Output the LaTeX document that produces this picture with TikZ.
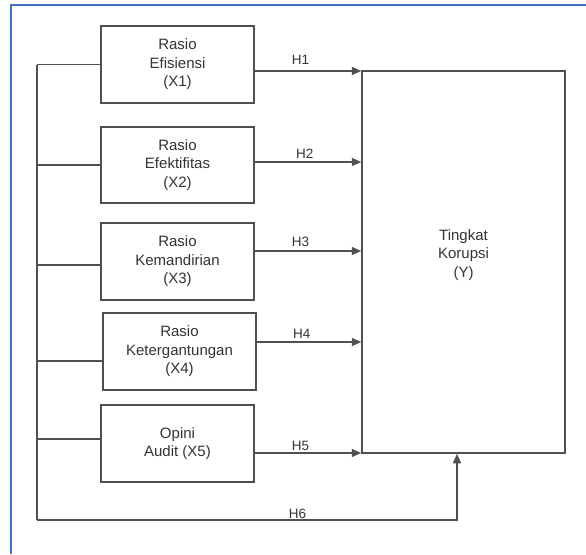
\documentclass[tikz,border=0pt]{standalone}
\usepackage{fontspec}
\setmainfont{Liberation Sans}
\usetikzlibrary{arrows.meta}
\usetikzlibrary{calc,positioning}

\definecolor{frameblue}{RGB}{68,114,196}
\definecolor{linegray}{RGB}{80,80,80}

\begin{document}
\begin{tikzpicture}[x=1pt, y=-1pt,
  var/.style={draw=linegray, line width=1.5pt, rectangle, minimum width=153pt, minimum height=77pt, align=center, inner sep=0pt, text=black!80, font=\fontsize{15}{18.5}\selectfont},
  link/.style={draw=linegray, line width=1.4pt},
  arr/.style={link, -{Triangle[length=9.5pt,width=8pt]}},
  hyp/.style={above, inner sep=3pt, text=black!80, font=\fontsize{13.5}{16}\selectfont}]
  \useasboundingbox (0,0) rectangle (586,554);
  \draw[frameblue, line width=2pt] (11,554) -- (11,5) -- (586,5);

  \node[var] (X1) at (177.5,64.5) {Rasio\\Efisiensi\\(X1)};
  \node[var, minimum height=76pt] (X2) at (177.5,165) {Rasio\\Efektifitas\\(X2)};
  \node[var] (X3) at (177.5,261.5) {Rasio\\Kemandirian\\(X3)};
  \node[var] (X4) at (179.5,351.5) {Rasio\\Ketergantungan\\(X4)};
  \node[var] (X5) at (177.5,443.5) {Opini\\Audit (X5)};

  \node[var, minimum width=203pt, minimum height=382pt] (Y) at (463.5,262) {};
  \node[align=center, text=black!80, font=\fontsize{15}{18.5}\selectfont] (Ytext) at (463.5,255) {Tingkat\\Korupsi\\(Y)};

  % left bus
  \coordinate (bustop) at (37,65);
  \coordinate (busbot) at (37,520);
  \draw[link] (bustop) -- (busbot);

  \draw[link] (X1.west) -- (X1.west -| bustop);
  \draw[link] (X2.west) -- (X2.west -| bustop);
  \coordinate (s3) at ([yshift=-3.5pt]X3.west);
  \draw[link] (s3) -- (s3 -| bustop);
  \coordinate (s4) at ([yshift=-9.5pt]X4.west);
  \draw[link] (s4) -- (s4 -| bustop);
  \coordinate (s5) at ([yshift=4.5pt]X5.west);
  \draw[link] (s5) -- (s5 -| bustop);

  % hypotheses
  \coordinate (h1) at ([yshift=-6.5pt]X1.east);
  \coordinate (h2) at ([yshift=3pt]X2.east);
  \coordinate (h3) at ([yshift=10.5pt]X3.east);
  \coordinate (h4) at ([yshift=9.5pt]X4.east);
  \coordinate (h5) at ([yshift=-9.5pt]X5.east);
  \draw[arr] (h1) -- (h1 -| Y.west) node[hyp, pos=0.43, yshift=3pt] {H1};
  \draw[arr] (h2) -- (h2 -| Y.west) node[hyp, pos=0.47] {H2};
  \draw[arr] (h3) -- (h3 -| Y.west) node[hyp, pos=0.43, yshift=1pt] {H3};
  \draw[arr] (h4) -- (h4 -| Y.west) node[hyp, pos=0.43] {H4};
  \draw[arr] (h5) -- (h5 -| Y.west) node[hyp, pos=0.43, yshift=-1pt] {H5};
  \draw[arr] (busbot) -| ([xshift=-6.5pt]Y.south) node[hyp, pos=0.31, yshift=-2pt] {H6};

\end{tikzpicture}
\end{document}
